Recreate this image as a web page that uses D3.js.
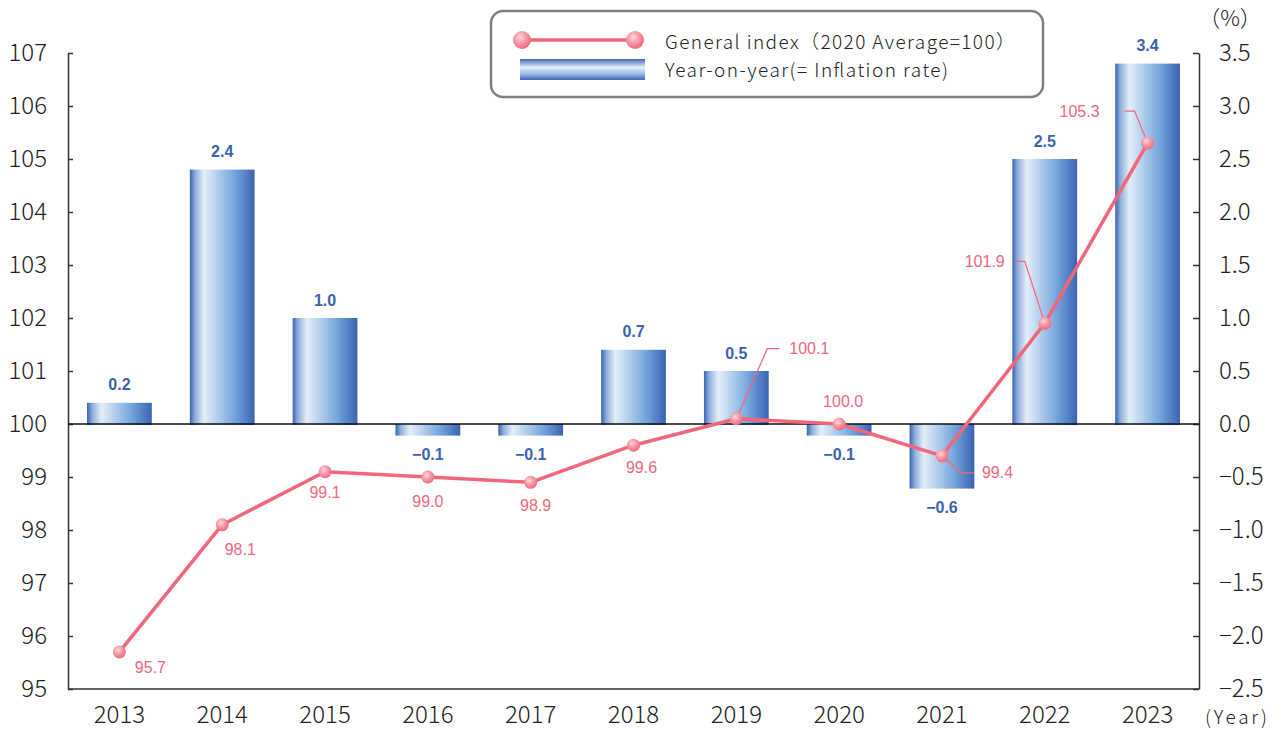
<!DOCTYPE html>
<html>
<head>
<meta charset="utf-8">
<script src="https://cdn.jsdelivr.net/npm/d3@7"></script>
<style>
  body { margin: 0; background: #fff; }
  svg text { font-family: "Noto Sans CJK JP", "Noto Sans", sans-serif; }
  .tick line, .domain { stroke: #333; stroke-width: 1.5; }
  .tick text { fill: #222; font-size: 24px; font-weight: 300; }
  .val { font-family: "Liberation Sans", Arial, sans-serif !important; font-size: 16px; }
</style>
</head>
<body>
<svg id="chart" width="1282" height="730"></svg>
<script>
// --data--
var years = [2013, 2014, 2015, 2016, 2017, 2018, 2019, 2020, 2021, 2022, 2023];
var generalIndex = [95.7, 98.1, 99.1, 99.0, 98.9, 99.6, 100.1, 100.0, 99.4, 101.9, 105.3];
var yoyRate = [0.2, 2.4, 1.0, -0.1, -0.1, 0.7, 0.5, -0.1, -0.6, 2.5, 3.4];
var leftTicks = d3.range(95, 108, 1);
var rightTicks = d3.range(-2.5, 3.51, 0.5);

// label placement for the index values (dx, dy from point; leader = bent line)
var indexLabelPos = [
  { dx: 31, dy: 15 }, { dx: 18, dy: 25 }, { dx: 0, dy: 21 }, { dx: 0, dy: 24 },
  { dx: 5, dy: 23 }, { dx: 8, dy: 22 },
  { leader: [[31, -70], [43, -70]], dx: 53, dy: -70, anchor: "start" },
  { dx: 4, dy: -23 },
  { leader: [[19, 17], [32, 17]], dx: 40, dy: 17, anchor: "start" },
  { leader: [[-20, -62], [-30, -62]], dx: -40, dy: -62, anchor: "end" },
  { leader: [[-13, -32], [-23, -32]], dx: -48, dy: -32, anchor: "end" }
];

var svg = d3.select("#chart");
var pLeft = 68, pRight = 1199, pTop = 53, pBottom = 689;
var pink = "#f2667c", blue = "#3b63b0";

var x = d3.scaleBand().domain(years).range([pLeft, pRight]).paddingInner(0.37).paddingOuter(0.185);
var yL = d3.scaleLinear().domain([95, 107]).range([pBottom, pTop]);
var yR = d3.scaleLinear().domain([-2.5, 3.5]).range([pBottom, pTop]);
var fmt = d3.format(".1f");

// --gradients--
var defs = svg.append("defs");
var barGrad = defs.append("linearGradient").attr("id", "barGrad").attr("x1", 0).attr("x2", 1).attr("y1", 0).attr("y2", 0);
[[0, "#3a62b0"], [0.08, "#8eaddb"], [0.22, "#e4eef9"], [0.45, "#accbeb"], [0.7, "#72a2db"], [1, "#3b62b2"]]
  .forEach(function (s) { barGrad.append("stop").attr("offset", s[0]).attr("stop-color", s[1]); });
var legGrad = defs.append("linearGradient").attr("id", "legGrad").attr("x1", 0).attr("x2", 0).attr("y1", 0).attr("y2", 1);
[[0, "#4268b3"], [0.4, "#e6eff9"], [0.7, "#9bbde6"], [1, "#3d64b2"]]
  .forEach(function (s) { legGrad.append("stop").attr("offset", s[0]).attr("stop-color", s[1]); });
var dotGrad = defs.append("radialGradient").attr("id", "dotGrad").attr("cx", 0.4).attr("cy", 0.35).attr("r", 0.65);
[[0, "#ffd6dc"], [0.5, "#f59aa8"], [1, "#ee6b80"]]
  .forEach(function (s) { dotGrad.append("stop").attr("offset", s[0]).attr("stop-color", s[1]); });

// --bars--
svg.append("g").selectAll("rect").data(yoyRate).join("rect")
  .attr("x", function (d, i) { return x(years[i]); })
  .attr("width", x.bandwidth())
  .attr("y", function (d) { return yR(Math.max(0, d)); })
  .attr("height", function (d) { return Math.abs(yR(d) - yR(0)) + 1; })
  .attr("fill", "url(#barGrad)");

svg.append("g").selectAll("text").data(yoyRate).join("text")
  .attr("class", "val")
  .attr("x", function (d, i) { return x(years[i]) + x.bandwidth() / 2; })
  .attr("y", function (d) { return d >= 0 ? yR(d) - 18 : yR(d) + 20; })
  .attr("dy", "0.35em")
  .attr("text-anchor", "middle")
  .attr("fill", blue)
  .attr("font-weight", "bold")
  .text(function (d) { return fmt(d); });

// --axes--
svg.append("g").attr("transform", "translate(" + pLeft + ",0)")
  .call(d3.axisLeft(yL).tickValues(leftTicks).tickSizeInner(-5).tickSizeOuter(0).tickPadding(21).tickFormat(d3.format("d")));
svg.append("g").attr("transform", "translate(" + pRight + ",0)")
  .call(d3.axisRight(yR).tickValues(rightTicks).tickSizeInner(-6).tickSizeOuter(0).tickPadding(20).tickFormat(fmt));
var xAxis = svg.append("g").attr("transform", "translate(0," + pBottom + ")")
  .call(d3.axisBottom(x).tickSize(0).tickPadding(17));
xAxis.select(".domain").attr("d", "M" + pLeft + ",0H" + pRight);

// zero line
svg.append("line").attr("x1", pLeft).attr("x2", pRight).attr("y1", yR(0)).attr("y2", yR(0))
  .attr("stroke", "#111").attr("stroke-width", 1.5);

// --line--
var cx = function (i) { return x(years[i]) + x.bandwidth() / 2; };
svg.append("path").datum(generalIndex)
  .attr("fill", "none").attr("stroke", pink).attr("stroke-width", 3.5).attr("stroke-linejoin", "round")
  .attr("d", d3.line().x(function (d, i) { return cx(i); }).y(function (d) { return yL(d); }));

// leader lines
svg.append("g").selectAll("path").data(indexLabelPos.map(function (p, i) { return { p: p, i: i }; }).filter(function (o) { return o.p.leader; }))
  .join("path")
  .attr("fill", "none").attr("stroke", pink).attr("stroke-width", 1.2)
  .attr("d", function (o) {
    var px = cx(o.i), py = yL(generalIndex[o.i]);
    return "M" + px + "," + py + o.p.leader.map(function (q) { return "L" + (px + q[0]) + "," + (py + q[1]); }).join("");
  });

svg.append("g").selectAll("circle").data(generalIndex).join("circle")
  .attr("cx", function (d, i) { return cx(i); })
  .attr("cy", function (d) { return yL(d); })
  .attr("r", 6.5)
  .attr("fill", "url(#dotGrad)");

svg.append("g").selectAll("text").data(generalIndex).join("text")
  .attr("class", "val")
  .attr("x", function (d, i) { return cx(i) + indexLabelPos[i].dx; })
  .attr("y", function (d, i) { return yL(d) + indexLabelPos[i].dy; })
  .attr("dy", "0.35em")
  .attr("text-anchor", function (d, i) { return indexLabelPos[i].anchor || "middle"; })
  .attr("fill", pink)
  .text(function (d) { return fmt(d); });

// --units--
svg.append("text").attr("x", 1230).attr("y", 26).attr("text-anchor", "middle").attr("font-size", 22).attr("font-weight", 300).attr("fill", "#222").text("（%）");
svg.append("text").attr("x", 1205).attr("y", 724).attr("font-size", 19).attr("font-weight", 300).attr("fill", "#222")
  .attr("textLength", 62).attr("lengthAdjust", "spacing").text("(Year)");

// --legend--
var lg = svg.append("g");
lg.append("rect").attr("x", 491).attr("y", 11).attr("width", 552).attr("height", 86).attr("rx", 12)
  .attr("fill", "#fff").attr("stroke", "#7f7f7f").attr("stroke-width", 2.5);
lg.append("line").attr("x1", 522).attr("x2", 635).attr("y1", 40).attr("y2", 40).attr("stroke", pink).attr("stroke-width", 3.5);
lg.selectAll("circle").data([522, 635]).join("circle")
  .attr("cx", function (d) { return d; }).attr("cy", 40).attr("r", 9).attr("fill", "url(#dotGrad)");
lg.append("rect").attr("x", 520).attr("y", 59).attr("width", 125).attr("height", 21).attr("fill", "url(#legGrad)");
lg.append("text").attr("x", 665).attr("y", 49).attr("font-size", 19).attr("font-weight", 300).attr("fill", "#222")
  .attr("textLength", 350).attr("lengthAdjust", "spacing").text("General index（2020 Average=100）");
lg.append("text").attr("x", 665).attr("y", 77).attr("font-size", 19).attr("font-weight", 300).attr("fill", "#222")
  .attr("textLength", 283).attr("lengthAdjust", "spacing").text("Year-on-year(= Inflation rate)");
</script>
</body>
</html>
